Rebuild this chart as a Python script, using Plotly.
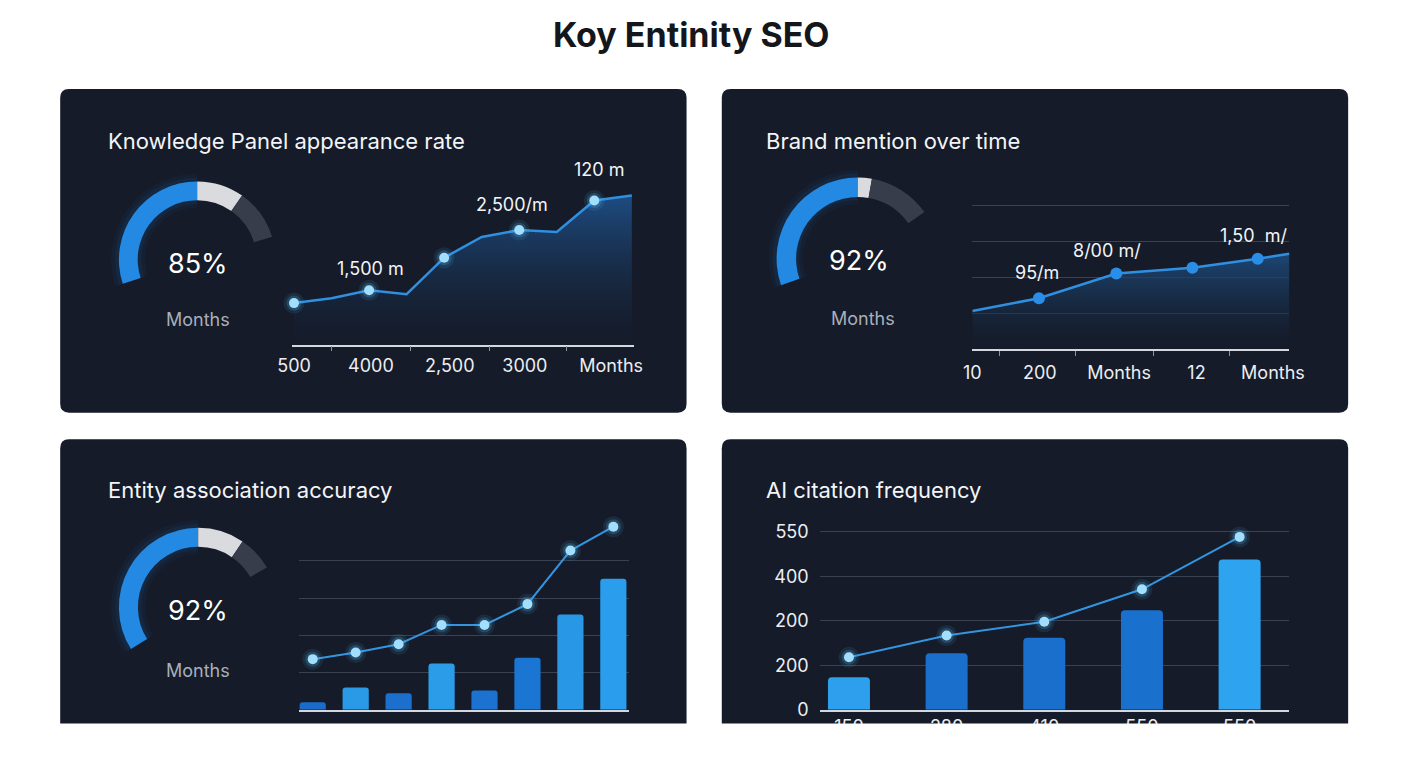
import plotly.graph_objects as go

W, H = 1408, 768
OFF = 8  # page margin of the browser around the figure
PANEL = "#151b29"
GRID = "#3a4152"
AXIS = "#d3d7de"
LINE = "#2f8fe0"
FONT = "Inter"

# ---- data ----
main_title = "Koy Entinity SEO"
panel_titles = ["Knowledge Panel appearance rate", "Brand mention over time",
                "Entity association accuracy", "AI citation frequency"]

gauge_text = ["85%", "92%", "92%"]
gauge_sub = "Months"
# arc segments (degrees): filled, highlight, remainder, hidden gap
gauge1_seg = [108, 35, 38, 179]
gauge2_seg = [109, 10, 45, 196]
gauge3_seg = [122, 34, 26, 178]

# Knowledge panel appearance
kp_x = list(range(10))
kp_y = [420, 470, 550, 510, 880, 1090, 1160, 1140, 1460, 1510]
kp_dot_idx = [0, 2, 4, 6, 8]
kp_label_idx = [2, 6, 8]
kp_label_text = ["1,500 m", "2,500/m", "120 m"]
kp_tick_pos = [0, 2.05, 4.15, 6.15, 8.45]
kp_tick_text = ["500", "4000", "2,500", "3000", "Months"]
kp_minor_pos = [1, 3.1, 5.2, 7.25]

# Brand mentions
bm_x = [0, 2.1, 4.54, 6.94, 9.0, 10]
bm_y = [26.7, 35.6, 52.7, 56.8, 63, 66.4]
bm_dot_idx = [1, 2, 3, 4]
bm_label_idx = [1, 2, 4]
bm_label_text = ["95/m", "8/00 m/", "1,50  m/"]
bm_tick_pos = [0, 2.13, 4.63, 7.07, 9.48]
bm_tick_text = ["10", "200", "Months", "12", "Months"]
bm_minor_pos = [0.86, 3.24, 5.71, 8.12]

# Entity association accuracy
ea_x = list(range(8))
ea_bars = [5, 15, 11, 31, 13, 35, 64, 88]
ea_line = [34, 38.5, 44, 57, 57, 71, 107, 123]

# AI citation frequency
ai_x = list(range(5))
ai_cats = ["150", "280", "410", "550", "550"]
ai_bars = [73, 127, 162, 224, 338]
ai_line = [118, 167, 198, 271, 389]
ai_ytick_vals = [0, 100, 200, 300, 400]
ai_ytick_text = ["0", "200", "200", "400", "550"]


def fx(px):
    return (px - OFF) / W


def fy(py):
    return 1 - (py - OFF) / H


def rounded_rect(x0, y0, x1, y1, r):
    def p(x, y):
        return f"{fx(x):.5f},{fy(y):.5f}"
    return (f"M {p(x0 + r, y0)} L {p(x1 - r, y0)} Q {p(x1, y0)} {p(x1, y0 + r)} "
            f"L {p(x1, y1 - r)} Q {p(x1, y1)} {p(x1 - r, y1)} L {p(x0 + r, y1)} "
            f"Q {p(x0, y1)} {p(x0, y1 - r)} L {p(x0, y0 + r)} Q {p(x0, y0)} {p(x0 + r, y0)} Z")


fig = go.Figure()

# ---- gauges ----
def add_gauge(seg, cx, cy, r):
    rot = 360 - seg[0]
    # soft glow behind the filled part
    for pad, alpha in [(8, 0.05), (4, 0.08)]:
        fig.add_trace(go.Pie(
            values=seg, sort=False, direction="clockwise", rotation=rot,
            hole=(r - 19 - pad) / (r + pad),
            marker=dict(colors=[f"rgba(42,142,232,{alpha})", "rgba(0,0,0,0)",
                                "rgba(0,0,0,0)", "rgba(0,0,0,0)"], line=dict(width=0)),
            textinfo="none", hoverinfo="skip", showlegend=False,
            domain=dict(x=[fx(cx - r - pad), fx(cx + r + pad)],
                        y=[fy(cy + r + pad), fy(cy - r - pad)])))
    fig.add_trace(go.Pie(
        values=seg, sort=False, direction="clockwise", rotation=rot, hole=0.76,
        marker=dict(colors=["#2489e2", "#d9dbdf", "#383d4b", "rgba(0,0,0,0)"], line=dict(width=0)),
        textinfo="none", hoverinfo="skip", showlegend=False,
        domain=dict(x=[fx(cx - r), fx(cx + r)], y=[fy(cy + r), fy(cy - r)])))


add_gauge(gauge1_seg, 186, 263, 80)
add_gauge(gauge2_seg, 861, 262, 83)
add_gauge(gauge3_seg, 187, 615, 81)


def glow_dots(xs, ys, xa, ya, size=10):
    for s, a in [(size + 11, 0.10), (size + 5, 0.20)]:
        fig.add_trace(go.Scatter(x=xs, y=ys, mode="markers", xaxis=xa, yaxis=ya, cliponaxis=False,
                                 marker=dict(size=s, color=f"rgba(90,195,255,{a})"),
                                 hoverinfo="skip", showlegend=False))
    fig.add_trace(go.Scatter(x=xs, y=ys, mode="markers", xaxis=xa, yaxis=ya, cliponaxis=False,
                             marker=dict(size=size, color="#a2defd", line=dict(width=0)),
                             hoverinfo="skip", showlegend=False))


# ---- panel 1: line with area ----
fig.add_trace(go.Scatter(
    x=kp_x, y=kp_y, mode="lines", xaxis="x", yaxis="y", cliponaxis=False,
    line=dict(color=LINE, width=2.5), fill="tozeroy",
    fillgradient=dict(type="vertical",
                      colorscale=[[0, "rgba(21,27,41,0.3)"], [1, "rgba(30,82,140,0.9)"]]),
    hoverinfo="skip", showlegend=False))
glow_dots([kp_x[i] for i in kp_dot_idx], [kp_y[i] for i in kp_dot_idx], "x", "y")

# ---- panel 2: line with area ----
fig.add_trace(go.Scatter(
    x=bm_x, y=bm_y, mode="lines", xaxis="x2", yaxis="y2",
    line=dict(color=LINE, width=2.5), fill="tozeroy",
    fillgradient=dict(type="vertical",
                      colorscale=[[0, "rgba(21,27,41,0.3)"], [1, "rgba(30,78,130,0.85)"]]),
    hoverinfo="skip", showlegend=False))
fig.add_trace(go.Scatter(
    x=[bm_x[i] for i in bm_dot_idx], y=[bm_y[i] for i in bm_dot_idx], mode="markers",
    xaxis="x2", yaxis="y2", marker=dict(size=12, color="#2a8ee8"),
    hoverinfo="skip", showlegend=False))

# ---- panel 3: bars + line ----
fig.add_trace(go.Bar(
    x=ea_x, y=ea_bars, xaxis="x3", yaxis="y3", width=0.61,
    marker=dict(color=["#1a6cc8", "#2a9ae6", "#1a70cc", "#2b9de8",
                       "#1b72d0", "#1a76d2", "#2898e6", "#2a9eec"],
                line=dict(width=0), cornerradius=3),
    hoverinfo="skip", showlegend=False))
fig.add_trace(go.Scatter(x=ea_x, y=ea_line, mode="lines", xaxis="x3", yaxis="y3", cliponaxis=False,
                         line=dict(color="#3394e0", width=2), hoverinfo="skip", showlegend=False))
glow_dots(ea_x, ea_line, "x3", "y3")

# ---- panel 4: bars + line ----
fig.add_trace(go.Bar(
    x=ai_x, y=ai_bars, xaxis="x4", yaxis="y4", width=0.43,
    marker=dict(color=["#2e9fec", "#1a6fcc", "#1a6fcc", "#1a70cd", "#2ea4f0"],
                line=dict(width=0), cornerradius=4),
    hoverinfo="skip", showlegend=False))
fig.add_trace(go.Scatter(x=ai_x, y=ai_line, mode="lines", xaxis="x4", yaxis="y4", cliponaxis=False,
                         line=dict(color="#3394e0", width=2), hoverinfo="skip", showlegend=False))
glow_dots(ai_x, ai_line, "x4", "y4")

# ---- axes ----
tickfont = dict(family=FONT, size=18, color="#eceef2")
hidden = dict(showgrid=False, zeroline=False, showticklabels=False, ticks="", fixedrange=True)

fig.update_layout(
    xaxis=dict(domain=[fx(283), fx(632)], range=[-0.05, 9.05], anchor="y",
               showgrid=False, zeroline=False, showline=True, linecolor=AXIS, linewidth=1.5,
               tickmode="array", tickvals=kp_tick_pos, ticktext=kp_tick_text, ticks="",
               tickfont=tickfont, ticklabelstandoff=4,
               minor=dict(tickmode="array", tickvals=kp_minor_pos, ticks="outside",
                          ticklen=5, tickwidth=1.2, tickcolor="#8d939f", showgrid=False)),
    yaxis=dict(domain=[fy(349), fy(160)], range=[0, 1890], anchor="x", **hidden),
    xaxis2=dict(domain=[fx(978), fx(1302)], range=[0, 10], anchor="y2",
                showgrid=False, zeroline=False, showline=True, linecolor=AXIS, linewidth=1.5,
                tickmode="array", tickvals=bm_tick_pos, ticktext=bm_tick_text, ticks="",
                tickfont=tickfont, ticklabelstandoff=6,
                minor=dict(tickmode="array", tickvals=bm_minor_pos, ticks="outside",
                           ticklen=5, tickwidth=1.2, tickcolor="#8d939f", showgrid=False)),
    yaxis2=dict(domain=[fy(354), fy(200)], range=[0, 105.5], anchor="x2",
                showgrid=True, gridcolor=GRID, gridwidth=1.2, tickmode="array",
                tickvals=[25, 50, 75, 100], zeroline=False, showticklabels=False, ticks=""),
    xaxis3=dict(domain=[fx(290), fx(627)], range=[-0.32, 7.36], anchor="y3",
                showgrid=False, zeroline=False, showline=True, linecolor=AXIS, linewidth=2,
                showticklabels=False, ticks=""),
    yaxis3=dict(domain=[fy(719), fy(520)], range=[0, 132], anchor="x3",
                showgrid=True, gridcolor=GRID, gridwidth=1.2, tickmode="array",
                tickvals=[25, 50, 75, 100], zeroline=False, showticklabels=False, ticks=""),
    xaxis4=dict(domain=[fx(822), fx(1302)], range=[-0.3, 4.51], anchor="y4",
                showgrid=False, zeroline=False, showline=True, linecolor=AXIS, linewidth=2,
                tickmode="array", tickvals=ai_x, ticktext=ai_cats, ticks="",
                tickfont=tickfont),
    yaxis4=dict(domain=[fy(719), fy(520)], range=[0, 442], anchor="x4",
                showgrid=True, gridcolor=GRID, gridwidth=1.2, zeroline=False,
                tickmode="array", tickvals=ai_ytick_vals, ticktext=ai_ytick_text, ticks="",
                tickfont=tickfont, ticklabelstandoff=10),
)

# ---- panels & cover ----
shapes = []
for x0, y0, x1, y1 in [(46, 90, 686, 418), (722, 90, 1362, 418),
                       (46, 445, 686, 745), (722, 445, 1362, 745)]:
    shapes.append(dict(type="path", path=rounded_rect(x0, y0, x1, y1, 9), xref="paper", yref="paper",
                       fillcolor=PANEL, line=dict(width=0), layer="below"))
shapes.append(dict(type="rect", xref="paper", yref="paper", x0=0, x1=1, y0=0, y1=fy(733),
                   fillcolor="white", line=dict(width=0), layer="above"))

# ---- text ----
def note(text, x, y, size, color, xanchor="center", bold=False):
    return dict(text=f"<b>{text}</b>" if bold else text, x=fx(x), y=fy(y),
                xref="paper", yref="paper", xanchor=xanchor, yanchor="middle",
                showarrow=False, font=dict(family=FONT, size=size, color=color))


ann = [note(main_title, 691, 35, 34, "#14161b", bold=True)]
for t, (px_, py_) in zip(panel_titles, [(93, 143), (765, 143), (93, 496), (765, 496)]):
    ann.append(note(t, px_, py_, 22, "#f3f5f8", xanchor="left"))
for t, (cx, cy, sx, sy) in zip(gauge_text, [(187, 267, 187, 324), (862, 264, 866, 323),
                                             (187, 618, 187, 679)]):
    ann.append(note(t, cx, cy, 27, "#ffffff"))
    ann.append(note(gauge_sub, sx, sy, 18, "#a9afba"))

for i, t, dx, dy in zip(kp_label_idx, kp_label_text, [1, -7, 5], [22, 26, 31]):
    ann.append(dict(text=t, x=kp_x[i], y=kp_y[i], xref="x", yref="y", showarrow=False,
                    xanchor="center", yanchor="middle",
                    xshift=dx, yshift=dy, font=dict(family=FONT, size=18, color="#f2f4f7")))
for i, t, dx, dy in zip(bm_label_idx, bm_label_text, [-2, -9, -4], [26, 23, 23]):
    ann.append(dict(text=t, x=bm_x[i], y=bm_y[i], xref="x2", yref="y2", showarrow=False,
                    xanchor="center", yanchor="middle",
                    xshift=dx, yshift=dy, font=dict(family=FONT, size=18, color="#f2f4f7")))

fig.update_layout(
    width=W, height=H, margin=dict(l=0, r=0, t=0, b=0),
    paper_bgcolor="white", plot_bgcolor="rgba(0,0,0,0)",
    shapes=shapes, annotations=ann, showlegend=False, hovermode=False,
    font=dict(family=FONT),
)

fig.write_html("out.html")
